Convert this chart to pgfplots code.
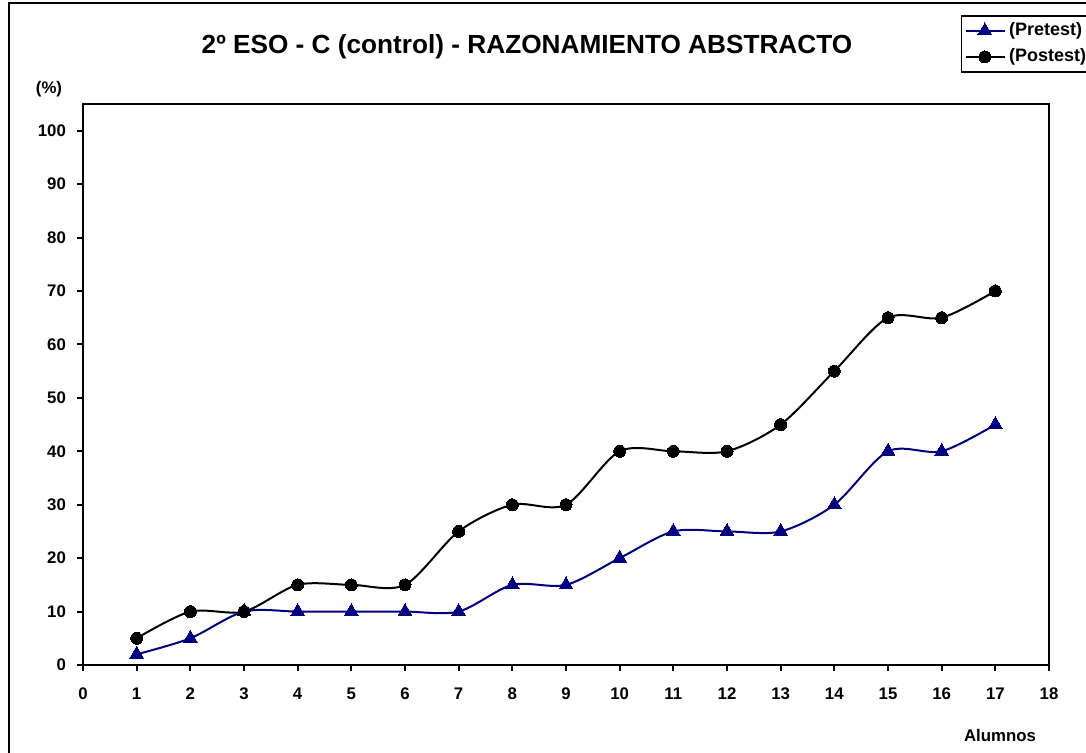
\documentclass[border=0pt]{standalone}
\usepackage{fontspec}
\setmainfont{Liberation Sans}
\usepackage{pgfplots}
\pgfplotsset{compat=1.18}
\definecolor{pre}{RGB}{0,0,128}
\begin{document}
\begin{tikzpicture}[x=0.5pt,y=-0.5pt]
% page: 1086 x 753 px, 1px = 0.5pt; plot box px x 83..1049, y 104..665
\useasboundingbox (-83,-665) rectangle (1003,88);
\draw[line width=1pt] (-74,-662) rectangle (1020,100);
\begin{axis}[
    at={(0pt,0pt)}, anchor=south west,
    scale only axis, width=483pt, height=280.5pt,
    xmin=0, xmax=18, ymin=0, ymax=105,
    xtick={0,...,18}, ytick={0,10,...,100},
    xtick pos=bottom, ytick pos=left,
    tick align=outside, major tick length=3pt,
    tick style={black, line width=1pt},
    axis line style={line width=1pt},
    /pgf/number format/assume math mode=true,
    ticklabel style={font=\bfseries\fontsize{8.4}{10}\selectfont},
    xticklabel style={yshift=-5pt},
    yticklabel style={xshift=-2pt},
    legend style={at={(rel axis cs:1.0466,1.1586)}, anchor=north east,
        draw=black, line width=0.8pt, font=\bfseries\fontsize{9}{11}\selectfont,
        inner sep=1.5pt, row sep=1pt},
    legend image code/.code={%
        \draw[mark repeat=2,mark phase=2] plot coordinates {(0cm,0cm) (0.34cm,0cm) (0.68cm,0cm)};},
    legend cell align=left,
    every axis plot/.append style={line width=1pt},
    clip=false,
]
\addplot[pre, smooth, tension=0.5, mark=triangle*, mark size=4pt,
    mark options={line width=0pt}] coordinates {
    (1,2) (2,5) (3,10) (4,10) (5,10) (6,10) (7,10) (8,15) (9,15) (10,20)
    (11,25) (12,25) (13,25) (14,30) (15,40) (16,40) (17,45)
};
\addlegendentry{(Pretest)}
\addplot[black, smooth, tension=0.5, mark=*, mark size=3pt,
    mark options={line width=0pt}] coordinates {
    (1,5) (2,10) (3,10) (4,15) (5,15) (6,15) (7,25) (8,30) (9,30) (10,40)
    (11,40) (12,40) (13,45) (14,55) (15,65) (16,65) (17,70)
};
\addlegendentry{(Postest)}
\node[font=\bfseries\fontsize{13.1}{15}\selectfont] at (rel axis cs:0.4596,1.1016)
    {2º ESO - C (control) - RAZONAMIENTO ABSTRACTO};
\node[font=\bfseries\fontsize{8.4}{10}\selectfont] at (rel axis cs:-0.0352,1.0267) {(\%)};
\node[font=\bfseries\fontsize{8.4}{10}\selectfont] at (rel axis cs:0.9493,-0.1248) {Alumnos};
\end{axis}
\end{tikzpicture}
\end{document}
